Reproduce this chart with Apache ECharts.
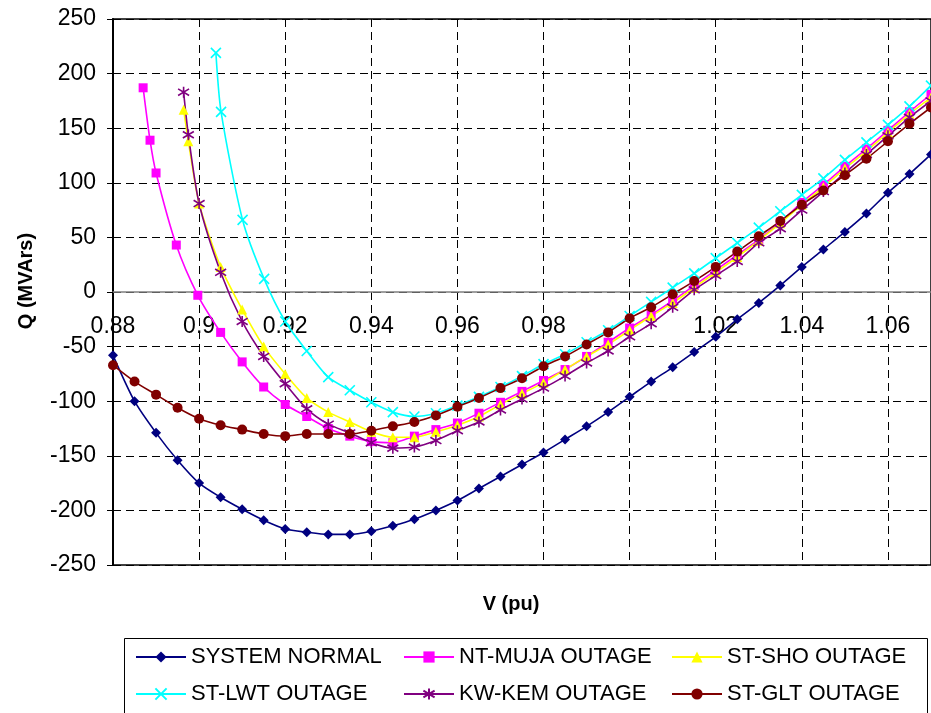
<!DOCTYPE html>
<html>
<head>
<meta charset="utf-8">
<script src="https://cdn.jsdelivr.net/npm/echarts@6/dist/echarts.min.js"></script>
<style>html,body{margin:0;padding:0;background:#fff;}#c{width:931px;height:713px;}</style>
</head>
<body>
<div id="c"></div>
<script>
// ---- data (V in pu, Q in MVArs) ----
const seriesNames = ['SYSTEM NORMAL','NT-MUJA OUTAGE','ST-SHO OUTAGE','ST-LWT OUTAGE','KW-KEM OUTAGE','ST-GLT OUTAGE'];

const vFull = [0.88,0.885,0.89,0.895,0.9,0.905,0.91,0.915,0.92,0.925,0.93,0.935,0.94,0.945,0.95,0.955,0.96,0.965,0.97,0.975,0.98,0.985,0.99,0.995,1.0,1.005,1.01,1.015,1.02,1.025,1.03,1.035,1.04,1.045,1.05,1.055,1.06,1.065,1.07];

const qNormal = [-58,-100,-129,-154,-175,-188,-199,-209,-217,-220,-222,-222,-219,-214,-208,-200,-191,-180,-169,-158,-147,-135,-123,-110,-96,-82,-69,-55,-41,-25,-10,6,23,39,55,72,91,108,126];

const vMuja = [0.887,0.8886,0.89,0.8947,0.8997,0.905,0.91,0.915,0.92,0.925,0.93,0.935,0.94,0.945,0.95,0.955,0.96,0.965,0.97,0.975,0.98,0.985,0.99,0.995,1.0,1.005,1.01,1.015,1.02,1.025,1.03,1.035,1.04,1.045,1.05,1.055,1.06,1.065,1.07];
const qMuja = [187,139,109,43,-3,-37,-64,-87,-103,-114,-125,-132,-137,-138,-132,-126,-120,-111,-101,-91,-81,-71,-59,-46,-33,-21,-8,6,20,34,48,64,82,98,115,131,148,165,181];

const vSho = [0.8964,0.8975,0.9,0.905,0.91,0.915,0.92,0.925,0.93,0.935,0.94,0.945,0.95,0.955,0.96,0.965,0.97,0.975,0.98,0.985,0.99,0.995,1.0,1.005,1.01,1.015,1.02,1.025,1.03,1.035,1.04,1.045,1.05,1.055,1.06,1.065,1.07];
const qSho = [167,138,81,23,-16,-50,-75,-97,-110,-119,-128,-133,-133,-128,-122,-114,-103,-93,-83,-71,-59,-48,-35,-22,-10,4,18,32,47,63,80,96,113,129,146,163,178];

const vLwt = [0.9039,0.9051,0.9101,0.9151,0.92,0.925,0.93,0.935,0.94,0.945,0.95,0.955,0.96,0.965,0.97,0.975,0.98,0.985,0.99,0.995,1.0,1.005,1.01,1.015,1.02,1.025,1.03,1.035,1.04,1.045,1.05,1.055,1.06,1.065,1.07];
const qLwt = [219,165,66,12,-27,-54,-78,-90,-101,-110,-114,-111,-104,-96,-87,-77,-66,-57,-46,-35,-22,-9,4,17,31,45,59,74,89,104,121,137,153,170,189];

const vKem = [0.8964,0.8975,0.9,0.905,0.91,0.915,0.92,0.925,0.93,0.935,0.94,0.945,0.95,0.955,0.96,0.965,0.97,0.975,0.98,0.985,0.99,0.995,1.0,1.005,1.01,1.015,1.02,1.025,1.03,1.035,1.04,1.045,1.05,1.055,1.06,1.065,1.07];
const qKem = [183,144,81,18,-27,-59,-84,-107,-121,-129,-138,-143,-142,-136,-127,-119,-108,-98,-88,-77,-65,-54,-41,-29,-14,2,15,28,45,58,75,92,109,126,143,160,175];

const qGlt = [-67,-82,-94,-106,-116,-122,-126,-130,-132,-130,-130,-130,-127,-123,-119,-113,-105,-97,-88,-79,-68,-59,-48,-37,-24,-14,-2,10,23,37,51,65,80,93,107,122,138,154,169];

const xTickLabels = ['0.88','0.9','0.92','0.94','0.96','0.98','1','1.02','1.04','1.06'];

// ---- chart ----
const FONT = "'Liberation Sans', Arial, sans-serif";
function pairs(v, q) { return v.map((x, i) => [x, q[i]]); }

const colors = ['#000080','#FF00FF','#FFFF00','#00FFFF','#800080','#800000'];
const symbols = ['diamond','rect','triangle',
  'path://M0,0L10,10M10,0L0,10',
  'path://M5,0L5,10M0,2L10,8M10,2L0,8',
  'circle'];
const sizes = [10,9,10,10,11,10];
const datasets = [pairs(vFull,qNormal), pairs(vMuja,qMuja), pairs(vSho,qSho), pairs(vLwt,qLwt), pairs(vKem,qKem), pairs(vFull,qGlt)];

const series = seriesNames.map((name, i) => ({
  name: name,
  type: 'line',
  data: datasets[i],
  smooth: 0.25,
  symbol: symbols[i],
  symbolSize: sizes[i],
  showAllSymbol: true,
  clip: true,
  lineStyle: { color: colors[i], width: 1.6 },
  itemStyle: (i === 3 || i === 4)
    ? { color: colors[i], borderColor: colors[i], borderWidth: 1.6 }
    : { color: colors[i], borderColor: colors[i], borderWidth: 0 },
  emphasis: { disabled: true }
}));

const legendCommon = {
  orient: 'vertical', itemGap: 15, itemWidth: 50, itemHeight: 14, padding: 0,
  selectedMode: false,
  textStyle: { fontSize: 22, fontFamily: FONT, color: '#000', lineHeight: 22 }
};

const chart = echarts.init(document.getElementById('c'), null, { renderer: 'canvas' });
chart.setOption({
  animation: false,
  backgroundColor: '#fff',
  grid: { left: 113, right: -2, top: 19, bottom: 148, show: true, borderColor: '#000', borderWidth: 1.5 },
  xAxis: {
    type: 'value', min: 0.88, max: 1.07, interval: 0.02,
    position: 'bottom', offset: -273,
    axisLine: { onZero: false, lineStyle: { color: '#808080', width: 1.5 } },
    axisTick: { show: false },
    axisLabel: {
      fontSize: 23, fontFamily: FONT, color: '#000', margin: 23, showMaxLabel: false,
      formatter: function (v) { const k = Math.round((v - 0.88) / 0.02); return xTickLabels[k] !== undefined ? xTickLabels[k] : ''; }
    },
    splitLine: { show: true, lineStyle: { color: '#000', type: [8, 5], width: 1 } }
  },
  yAxis: {
    type: 'value', min: -250, max: 250, interval: 50,
    axisLine: { show: true, lineStyle: { color: '#000', width: 2 } },
    axisTick: { show: true, inside: false, length: 6, lineStyle: { color: '#000' } },
    axisLabel: { fontSize: 23, fontFamily: FONT, color: '#000', margin: 17 },
    splitLine: { show: true, lineStyle: { color: '#000', type: [8, 5], width: 1 } }
  },
  legend: [
    Object.assign({ data: ['SYSTEM NORMAL','ST-LWT OUTAGE'], left: 135, top: 646 }, legendCommon),
    Object.assign({ data: ['NT-MUJA OUTAGE','KW-KEM OUTAGE'], left: 403, top: 646 }, legendCommon),
    Object.assign({ data: ['ST-SHO OUTAGE','ST-GLT OUTAGE'], left: 671, top: 646 }, legendCommon)
  ],
  graphic: [
    { type: 'rect', silent: true, shape: { x: 124.5, y: 638.5, width: 803, height: 90 },
      style: { fill: 'none', stroke: '#000', lineWidth: 1 } },
    { type: 'text', silent: true, x: 26, y: 281, rotation: Math.PI / 2,
      style: { text: 'Q (MVArs)', font: "bold 20px " + FONT, fill: '#000', align: 'center', verticalAlign: 'middle' } },
    { type: 'text', silent: true, x: 511, y: 604,
      style: { text: 'V (pu)', font: "bold 20px " + FONT, fill: '#000', align: 'center', verticalAlign: 'middle' } }
  ],
  series: series
});
</script>
</body>
</html>
